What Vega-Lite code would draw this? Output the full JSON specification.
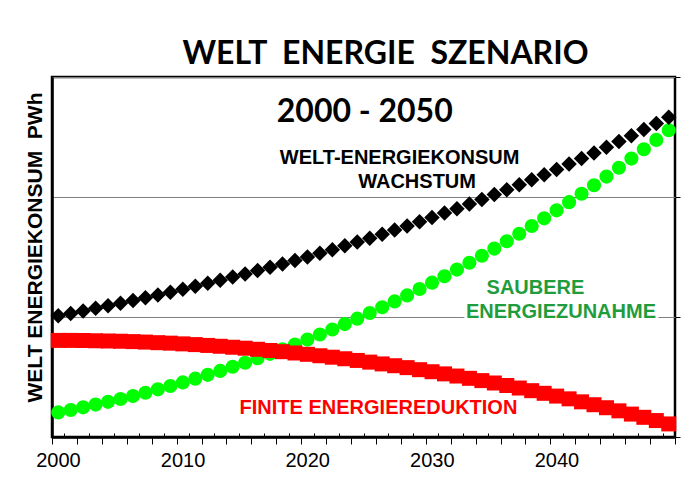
{
  "$schema": "https://vega.github.io/schema/vega-lite/v6.json",
  "width": 623,
  "height": 360,
  "autosize": {"type": "none"},
  "padding": {"left": 52, "top": 77, "right": 25, "bottom": 49},
  "background": "white",
  "title": {"text": "WELT\u00a0 ENERGIE\u00a0 SZENARIO", "font": "Lato", "fontSize": 32, "fontWeight": "bold", "color": "black", "anchor": "middle", "baseline": "alphabetic", "frame": "group", "offset": 13, "dx": 22, "dy": 32},
  "config": {"view": {"stroke": "black", "strokeWidth": 2.5}, "font": "Liberation Sans"},
  "datasets": {
    "series": [
      {"year": 2000, "konsum": 101.0, "sauber": 20.5, "finit": 80.5},
      {"year": 2001, "konsum": 103.0, "sauber": 22.5, "finit": 80.5},
      {"year": 2002, "konsum": 105.1, "sauber": 24.7, "finit": 80.4},
      {"year": 2003, "konsum": 107.2, "sauber": 27.0, "finit": 80.2},
      {"year": 2004, "konsum": 109.3, "sauber": 29.3, "finit": 80.0},
      {"year": 2005, "konsum": 111.5, "sauber": 31.7, "finit": 79.8},
      {"year": 2006, "konsum": 113.7, "sauber": 34.2, "finit": 79.5},
      {"year": 2007, "konsum": 116.0, "sauber": 36.9, "finit": 79.1},
      {"year": 2008, "konsum": 118.3, "sauber": 39.7, "finit": 78.6},
      {"year": 2009, "konsum": 120.7, "sauber": 42.5, "finit": 78.2},
      {"year": 2010, "konsum": 123.1, "sauber": 45.5, "finit": 77.6},
      {"year": 2011, "konsum": 125.6, "sauber": 48.6, "finit": 77.0},
      {"year": 2012, "konsum": 128.1, "sauber": 51.8, "finit": 76.3},
      {"year": 2013, "konsum": 130.7, "sauber": 55.1, "finit": 75.6},
      {"year": 2014, "konsum": 133.3, "sauber": 58.5, "finit": 74.8},
      {"year": 2015, "konsum": 135.9, "sauber": 61.9, "finit": 74.0},
      {"year": 2016, "konsum": 138.7, "sauber": 65.6, "finit": 73.1},
      {"year": 2017, "konsum": 141.4, "sauber": 69.3, "finit": 72.1},
      {"year": 2018, "konsum": 144.2, "sauber": 73.1, "finit": 71.1},
      {"year": 2019, "konsum": 147.1, "sauber": 77.1, "finit": 70.0},
      {"year": 2020, "konsum": 150.1, "sauber": 81.2, "finit": 68.9},
      {"year": 2021, "konsum": 153.1, "sauber": 85.4, "finit": 67.7},
      {"year": 2022, "konsum": 156.1, "sauber": 89.6, "finit": 66.5},
      {"year": 2023, "konsum": 159.3, "sauber": 94.1, "finit": 65.2},
      {"year": 2024, "konsum": 162.4, "sauber": 98.6, "finit": 63.8},
      {"year": 2025, "konsum": 165.7, "sauber": 103.3, "finit": 62.4},
      {"year": 2026, "konsum": 169.0, "sauber": 108.1, "finit": 60.9},
      {"year": 2027, "konsum": 172.4, "sauber": 113.0, "finit": 59.4},
      {"year": 2028, "konsum": 175.8, "sauber": 118.0, "finit": 57.8},
      {"year": 2029, "konsum": 179.4, "sauber": 123.3, "finit": 56.1},
      {"year": 2030, "konsum": 183.0, "sauber": 128.6, "finit": 54.4},
      {"year": 2031, "konsum": 186.6, "sauber": 134.0, "finit": 52.6},
      {"year": 2032, "konsum": 190.3, "sauber": 139.5, "finit": 50.8},
      {"year": 2033, "konsum": 194.1, "sauber": 145.2, "finit": 48.9},
      {"year": 2034, "konsum": 198.0, "sauber": 151.0, "finit": 47.0},
      {"year": 2035, "konsum": 202.0, "sauber": 157.0, "finit": 45.0},
      {"year": 2036, "konsum": 206.0, "sauber": 163.1, "finit": 42.9},
      {"year": 2037, "konsum": 210.2, "sauber": 169.4, "finit": 40.8},
      {"year": 2038, "konsum": 214.4, "sauber": 175.8, "finit": 38.6},
      {"year": 2039, "konsum": 218.6, "sauber": 182.2, "finit": 36.4},
      {"year": 2040, "konsum": 223.0, "sauber": 188.9, "finit": 34.1},
      {"year": 2041, "konsum": 227.5, "sauber": 195.7, "finit": 31.8},
      {"year": 2042, "konsum": 232.0, "sauber": 202.7, "finit": 29.3},
      {"year": 2043, "konsum": 236.7, "sauber": 209.8, "finit": 26.9},
      {"year": 2044, "konsum": 241.4, "sauber": 217.0, "finit": 24.4},
      {"year": 2045, "konsum": 246.2, "sauber": 224.4, "finit": 21.8},
      {"year": 2046, "konsum": 251.1, "sauber": 232.0, "finit": 19.1},
      {"year": 2047, "konsum": 256.2, "sauber": 239.8, "finit": 16.4},
      {"year": 2048, "konsum": 261.3, "sauber": 247.6, "finit": 13.7},
      {"year": 2049, "konsum": 266.5, "sauber": 255.6, "finit": 10.9}
    ],
    "heading": [{"text": "2000 - 2050", "year": 2025.1, "value": 270.5}],
    "blackNotes": [
      {"text": "WELT-ENERGIEKONSUM", "year": 2027.9, "value": 232.5},
      {"text": "WACHSTUM", "year": 2029.3, "value": 212.5}
    ],
    "greenNotes": [
      {"text": "SAUBERE", "year": 2038.8, "value": 124},
      {"text": "ENERGIEZUNAHME", "year": 2040.85, "value": 104}
    ],
    "redNotes": [
      {"text": "FINITE ENERGIEREDUKTION", "year": 2026.2, "value": 24}
    ]
  },
  "encoding": {
    "x": {
      "field": "year", "type": "quantitative",
      "scale": {"domain": [2000, 2050], "nice": false, "zero": false},
      "axis": {
        "title": null,
        "values": [2000,2001,2002,2003,2004,2005,2006,2007,2008,2009,2010,2011,2012,2013,2014,2015,2016,2017,2018,2019,2020,2021,2022,2023,2024,2025,2026,2027,2028,2029,2030,2031,2032,2033,2034,2035,2036,2037,2038,2039,2040,2041,2042,2043,2044,2045,2046,2047,2048,2049,2050],
        "grid": false,
        "domainColor": "black", "domainWidth": 2.5,
        "tickColor": "black", "tickWidth": 1,
        "tickSize": {"condition": {"test": "datum.value % 2 == 0", "value": 7}, "value": -4},
        "format": "d",
        "labelExpr": "datum.value % 10 == 0 && datum.value < 2050 ? datum.label : ''",
        "labelOffset": 6,
        "labelFont": "Liberation Sans", "labelFontSize": 20, "labelColor": "black",
        "labelPadding": 6, "labelFlush": false, "labelOverlap": false, "labelBound": false
      }
    }
  },
  "layer": [
    {
      "data": {"name": "series"},
      "mark": {"type": "point", "shape": "circle", "filled": true, "size": 200, "color": "#00ff00", "opacity": 1, "xOffset": 6.23},
      "encoding": {
        "y": {
          "field": "sauber", "type": "quantitative",
          "scale": {"domain": [0, 300], "nice": false},
          "axis": {
            "title": "WELT ENERGIEKONSUM\u00a0 PWh",
            "values": [0, 100, 200, 300],
            "grid": true, "gridColor": "#7f7f7f", "gridWidth": 1,
            "labels": false, "ticks": false,
            "domainColor": "black", "domainWidth": 2.5,
            "titleFont": "Liberation Sans", "titleFontSize": 21, "titleFontWeight": "bold", "titleColor": "black",
            "titleAngle": -90, "titleX": -11, "titleY": 170, "titleBaseline": "alphabetic", "titleAlign": "center"
          }
        }
      }
    },
    {
      "data": {"name": "series"},
      "mark": {"type": "point", "shape": "square", "filled": true, "size": 225, "color": "#ff0000", "opacity": 1, "xOffset": 6.23},
      "encoding": {
        "y": {"field": "finit", "type": "quantitative", "scale": {"domain": [0, 300], "nice": false}, "axis": null}
      }
    },
    {
      "data": {"name": "series"},
      "mark": {"type": "point", "shape": "diamond", "filled": true, "size": 240, "color": "#000000", "opacity": 1, "xOffset": 6.23},
      "encoding": {
        "y": {
          "field": "konsum", "type": "quantitative", "scale": {"domain": [0, 300], "nice": false},
          "axis": {"orient": "right", "values": [0, 100, 200, 300], "labels": false, "ticks": true, "tickSize": 5, "tickColor": "black", "domain": false, "grid": false, "title": null}
        }
      }
    },
    {
      "data": {"name": "heading"},
      "mark": {"type": "text", "font": "Lato", "fontSize": 32, "fontWeight": "bold", "color": "black", "align": "center", "baseline": "middle"},
      "encoding": {
        "y": {"field": "value", "type": "quantitative", "scale": {"domain": [0, 300], "nice": false}, "axis": null},
        "text": {"field": "text"}
      }
    },
    {
      "data": {"name": "blackNotes"},
      "mark": {"type": "text", "font": "Liberation Sans", "fontSize": 20, "fontWeight": "bold", "color": "black", "align": "center", "baseline": "middle"},
      "encoding": {
        "y": {"field": "value", "type": "quantitative", "scale": {"domain": [0, 300], "nice": false}, "axis": null},
        "text": {"field": "text"}
      }
    },
    {
      "data": {"name": "greenNotes"},
      "mark": {"type": "text", "font": "Liberation Sans", "fontSize": 20, "fontWeight": "bold", "color": "white", "stroke": "white", "strokeWidth": 6, "align": "center", "baseline": "middle"},
      "encoding": {
        "y": {"field": "value", "type": "quantitative", "scale": {"domain": [0, 300], "nice": false}, "axis": null},
        "text": {"field": "text"}
      }
    },
    {
      "data": {"name": "greenNotes"},
      "mark": {"type": "text", "font": "Liberation Sans", "fontSize": 20, "fontWeight": "bold", "color": "#1f9d3d", "align": "center", "baseline": "middle"},
      "encoding": {
        "y": {"field": "value", "type": "quantitative", "scale": {"domain": [0, 300], "nice": false}, "axis": null},
        "text": {"field": "text"}
      }
    },
    {
      "data": {"name": "redNotes"},
      "mark": {"type": "text", "font": "Liberation Sans", "fontSize": 20, "fontWeight": "bold", "color": "#ff0000", "align": "center", "baseline": "middle"},
      "encoding": {
        "y": {"field": "value", "type": "quantitative", "scale": {"domain": [0, 300], "nice": false}, "axis": null},
        "text": {"field": "text"}
      }
    }
  ],
  "resolve": {"axis": {"y": "independent"}}
}
